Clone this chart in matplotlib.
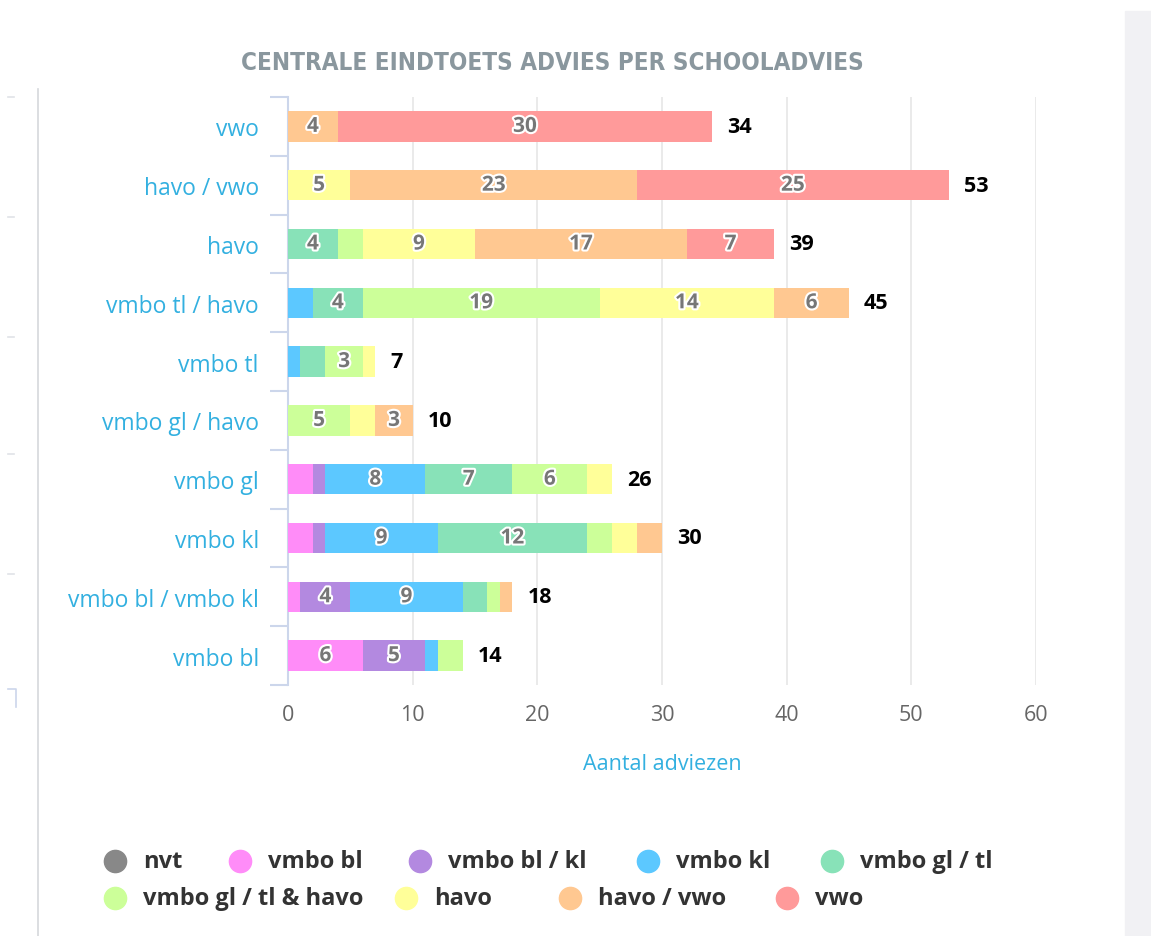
import matplotlib
matplotlib.use("Agg")
import matplotlib.pyplot as plt
import matplotlib.patheffects as pe
from matplotlib.lines import Line2D
from matplotlib.patches import Rectangle

plt.rcParams['font.family'] = ['Open Sans', 'DejaVu Sans']

categories = ['vwo', 'havo / vwo', 'havo', 'vmbo tl / havo', 'vmbo tl',
              'vmbo gl / havo', 'vmbo gl', 'vmbo kl', 'vmbo bl / vmbo kl', 'vmbo bl']
series = ['nvt', 'vmbo bl', 'vmbo bl / kl', 'vmbo kl', 'vmbo gl / tl',
          'vmbo gl / tl & havo', 'havo', 'havo / vwo', 'vwo']
colors = ['#888888', '#ff8cf8', '#b389e0', '#5cc8ff', '#88e2b8',
          '#ccff99', '#ffff99', '#ffc891', '#ff9a9a']

# one list per series, in category order (top to bottom)
nvt          = [0, 0, 0, 0, 0, 0, 0, 0, 0, 0]
vmbo_bl      = [0, 0, 0, 0, 0, 0, 2, 2, 1, 6]
vmbo_bl_kl   = [0, 0, 0, 0, 0, 0, 1, 1, 4, 5]
vmbo_kl      = [0, 0, 0, 2, 1, 0, 8, 9, 9, 1]
vmbo_gl_tl   = [0, 0, 4, 4, 2, 0, 7, 12, 2, 0]
gl_tl_havo   = [0, 0, 2, 19, 3, 5, 6, 2, 1, 2]
havo         = [0, 5, 9, 14, 1, 2, 2, 2, 0, 0]
havo_vwo     = [4, 23, 17, 6, 0, 3, 0, 2, 1, 0]
vwo          = [30, 25, 7, 0, 0, 0, 0, 0, 0, 0]
values = [nvt, vmbo_bl, vmbo_bl_kl, vmbo_kl, vmbo_gl_tl, gl_tl_havo, havo, havo_vwo, vwo]

fig = plt.figure(figsize=(11.51, 9.37), dpi=100)
ax = fig.add_axes([288/1151, 1-686/937, (1036-288)/1151, (686-98)/937])

y = list(range(len(categories)))
left = [0] * len(categories)
for vals, col in zip(values, colors):
    ax.barh(y, vals, left=left, height=0.52, color=col, zorder=3)
    for i, v in enumerate(vals):
        if v >= 3:
            ax.text(left[i] + v/2, i, str(v), ha='center', va='center', fontsize=15,
                    fontweight='bold', color='#777777', zorder=4,
                    path_effects=[pe.withStroke(linewidth=3, foreground='white')])
    left = [l + v for l, v in zip(left, vals)]

for i, tot in enumerate(left):
    ax.text(tot + 1.2, i, str(tot), ha='left', va='center', fontsize=15.5,
            fontweight='bold', color='black')

ax.set_xlim(0, 60)
ax.set_ylim(len(categories) - 0.5, -0.5)
ax.set_yticks(y)
ax.set_yticklabels(categories)
ax.set_yticks([i - 0.5 for i in range(len(categories) + 1)], minor=True)
ax.tick_params(axis='y', which='major', length=0, pad=21, labelsize=16.5, labelcolor='#33b0e0')
ax.tick_params(axis='y', which='minor', length=13, width=1.5, color='#ccd6eb')
ax.set_xticks(range(0, 61, 10))
ax.tick_params(axis='x', length=0, pad=14, labelsize=15.5, labelcolor='#666666')
ax.grid(axis='x', color='#e6e6e6', linewidth=1.2, zorder=0)
for s in ['top', 'right', 'bottom']:
    ax.spines[s].set_visible(False)
ax.spines['left'].set_color('#ccd6eb')
ax.spines['left'].set_linewidth(1.5)
ax.set_xlabel('Aantal adviezen', fontsize=15.5, color='#33b0e0', labelpad=20)

fig.text(552/1151, 1-63/937, 'CENTRALE EINDTOETS ADVIES PER SCHOOLADVIES',
         ha='center', va='center', fontsize=17.4, fontweight='bold', color='#8a979e',
         fontstretch='condensed', family=['DejaVu Sans'])

# page decorations
fig.add_artist(Line2D([38/1151, 38/1151], [0, 1-90/937], color='#d5d8dc', linewidth=1.2))
for yy in [98, 218, 338, 455, 575]:
    fig.add_artist(Line2D([8/1151, 14/1151], [1-yy/937, 1-yy/937], color='#e0e3e8', linewidth=1.2))
fig.add_artist(Line2D([8/1151, 16/1151, 16/1151], [1-690/937, 1-690/937, 1-708/937],
                      color='#ccd6eb', linewidth=1.2))
fig.add_artist(Rectangle((1125/1151, 0), 26/1151, 1-12/937, transform=fig.transFigure,
                         color='#f1f1f4', zorder=0))

# legend, flow layout in two rows
rows = [[0, 1, 2, 3, 4], [5, 6, 7, 8]]
row_y = [862, 899]
row_x = [[115, 240, 420, 648, 832], [115, 406, 570, 787]]
for r, idxs in enumerate(rows):
    for k, idx in enumerate(idxs):
        xx = row_x[r][k]
        fig.add_artist(Line2D([xx/1151], [1-row_y[r]/937], marker='o', markersize=16,
                              color=colors[idx], linestyle='none'))
        fig.text((xx + 28)/1151, 1-row_y[r]/937, series[idx], ha='left', va='center',
                 fontsize=17, fontweight='bold', color='#333333')

fig.savefig('out.png', dpi=100)
